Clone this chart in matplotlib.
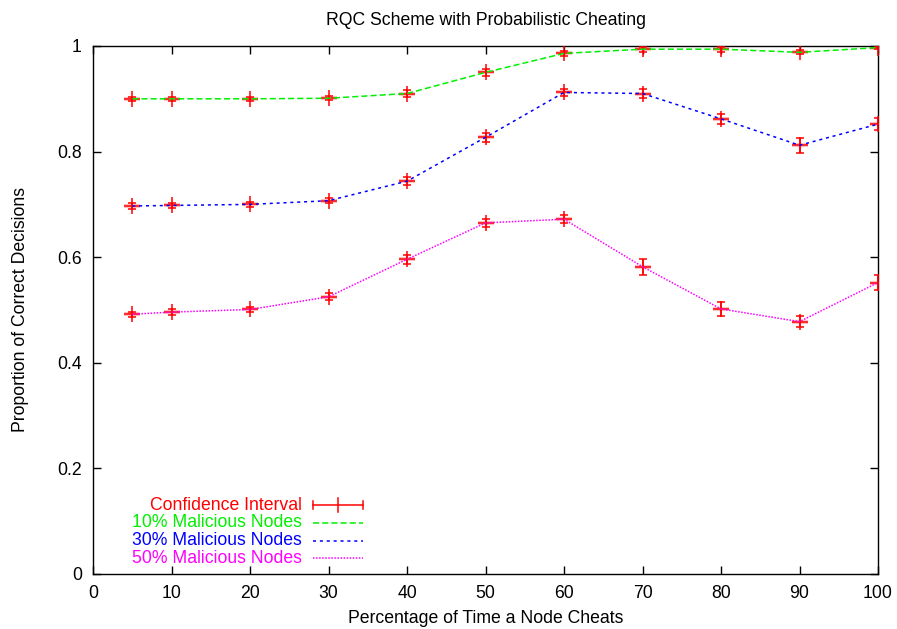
import matplotlib
matplotlib.use("Agg")
import matplotlib.pyplot as plt
from matplotlib.lines import Line2D

plt.rcParams['font.family'] = ['Liberation Sans', 'DejaVu Sans']

x = [5, 10, 20, 30, 40, 50, 60, 70, 80, 90, 100]
y10 = [0.900, 0.900, 0.900, 0.901, 0.910, 0.950, 0.986, 0.994, 0.994, 0.988, 0.997]
e10 = [0.004, 0.004, 0.004, 0.004, 0.006, 0.006, 0.005, 0.005, 0.005, 0.004, 0.003]
y30 = [0.697, 0.698, 0.700, 0.707, 0.744, 0.827, 0.912, 0.910, 0.862, 0.812, 0.852]
e30 = [0.005, 0.005, 0.004, 0.005, 0.007, 0.008, 0.006, 0.008, 0.009, 0.014, 0.011]
y50 = [0.492, 0.496, 0.501, 0.525, 0.596, 0.665, 0.672, 0.582, 0.502, 0.478, 0.552]
e50 = [0.005, 0.006, 0.005, 0.007, 0.008, 0.007, 0.007, 0.015, 0.013, 0.011, 0.015]

series = [
    ("10% Malicious Nodes", y10, e10, "#00f000", (0, (4, 2))),
    ("30% Malicious Nodes", y30, e30, "#0000ff", (0, (2, 2.5))),
    ("50% Malicious Nodes", y50, e50, "#ff00ff", (0, (1, 1))),
]

xticks = [0, 10, 20, 30, 40, 50, 60, 70, 80, 90, 100]
yticks = [0, 0.2, 0.4, 0.6, 0.8, 1.0]
yticklabels = ["0", "0.2", "0.4", "0.6", "0.8", "1"]

FS = 12.7
fig = plt.figure(figsize=(8.97, 6.29), dpi=100)
ax = fig.add_axes([93/897, 55/629, 785/897, 528/629])

red = "#ff0000"
for label, ys, es, col, ls in series:
    ax.plot(x, ys, linestyle='none', marker='_', markersize=12,
            markeredgewidth=3, color=red, alpha=0.25, zorder=2)
    ax.errorbar(x, ys, yerr=es, fmt='none', ecolor=red, elinewidth=1.1,
                capsize=3, capthick=1.1, zorder=3)
    ax.plot(x, ys, linestyle='none', marker='+', markersize=12,
            markeredgewidth=1.1, color=red, zorder=3)
    ax.plot(x, ys, color=col, linestyle=ls, linewidth=1.1, zorder=4)

ax.set_xlim(0, 100)
ax.set_ylim(0, 1)
ax.set_xticks(xticks)
ax.set_xticklabels([str(v) for v in xticks])
ax.set_yticks(yticks)
ax.set_yticklabels(yticklabels)
ax.tick_params(direction='in', length=6, width=1, top=True, right=True,
               labelsize=FS, pad=8, colors='black')
for s in ax.spines.values():
    s.set_linewidth(1)

ax.set_title("RQC Scheme with Probabilistic Cheating", fontsize=FS, pad=15)
ax.set_xlabel("Percentage of Time a Node Cheats", fontsize=FS, labelpad=6)
ax.set_ylabel("Proportion of Correct Decisions", fontsize=FS, labelpad=20)

def ax_x(px):
    return (px - 93) / 785
def ax_y(py):
    return (574 - py) / 528

rows = [505, 522.7, 540.5, 558.3]
texts = ["Confidence Interval"] + [s[0] for s in series]
cols = [red] + [s[3] for s in series]
lss = ['-'] + [s[4] for s in series]
for ry, t, c, ls in zip(rows, texts, cols, lss):
    ax.text(ax_x(302), ax_y(ry), t, color=c, fontsize=FS, ha='right',
            va='center', transform=ax.transAxes)
    ax.add_line(Line2D([ax_x(313), ax_x(363)], [ax_y(ry), ax_y(ry)],
                       color=c, linestyle=ls, linewidth=1.1,
                       transform=ax.transAxes))
ry = rows[0]
for xx in (313, 363):
    ax.add_line(Line2D([ax_x(xx), ax_x(xx)], [ax_y(ry - 4), ax_y(ry + 4)],
                       color=red, linewidth=1.1, transform=ax.transAxes))
ax.add_line(Line2D([ax_x(338), ax_x(338)], [ax_y(ry - 7), ax_y(ry + 7)],
                   color=red, linewidth=1.1, transform=ax.transAxes))

fig.savefig("out.png", dpi=100)
